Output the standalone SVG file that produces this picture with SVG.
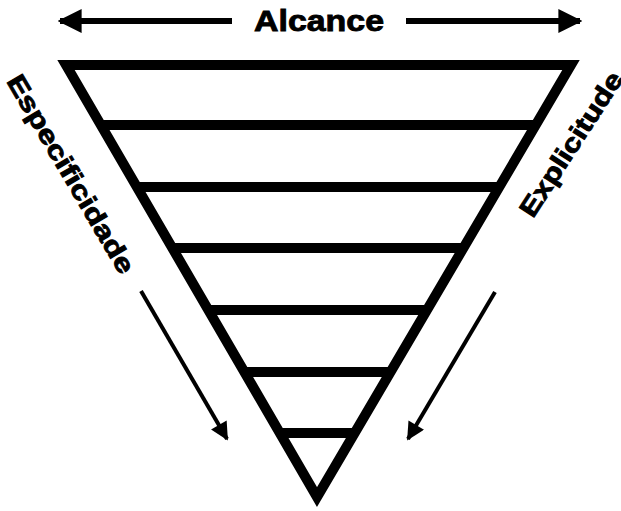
<svg xmlns="http://www.w3.org/2000/svg" width="621" height="511" viewBox="0 0 621 511">
<style>
.lbl{font-family:"Liberation Sans",Arial,sans-serif;font-weight:bold;fill:#000;stroke:#000;stroke-width:0.9px}
.tri{fill:none;stroke:#000;stroke-width:10;stroke-linejoin:miter;stroke-miterlimit:10}
.bar{stroke:#000;stroke-width:10}
.arr{stroke:#000;fill:none}
</style>
<defs>
<marker id="ah" viewBox="0 0 10 10" refX="9" refY="5" markerWidth="4" markerHeight="4" markerUnits="strokeWidth" orient="auto">
<path d="M0,0 L10,5 L0,10 Z" fill="#000"/>
</marker>
<marker id="ah2" viewBox="0 0 10 10" refX="9" refY="5" markerWidth="5.5" markerHeight="4.5" markerUnits="strokeWidth" orient="auto">
<path d="M0,0 L10,5 L0,10 Z" fill="#000"/>
</marker>
</defs>
<rect width="621" height="511" fill="#fff"/>
<g id="triangle">
<polygon class="tri" points="66,65 571,65 317,497"/>
<line class="bar" x1="100" y1="125" x2="536" y2="125"/>
<line class="bar" x1="136" y1="187" x2="500" y2="187"/>
<line class="bar" x1="172" y1="248" x2="464" y2="248"/>
<line class="bar" x1="208" y1="310" x2="427" y2="310"/>
<line class="bar" x1="244" y1="372" x2="391" y2="372"/>
<line class="bar" x1="280" y1="433" x2="355" y2="433"/>
</g>
<g id="alcance">
<text class="lbl" x="319" y="31" font-size="30" text-anchor="middle" textLength="130" lengthAdjust="spacingAndGlyphs">Alcance</text>
</g>
<g id="especificidade">
<text class="lbl" transform="translate(71,174) rotate(59.5)" x="0" y="9" font-size="26" text-anchor="middle" textLength="226" lengthAdjust="spacingAndGlyphs">Especificidade</text>
</g>
<g id="explicitude">
<text class="lbl" transform="translate(571,144) rotate(-57)" x="0" y="9" font-size="26" text-anchor="middle" textLength="167" lengthAdjust="spacingAndGlyphs">Explicitude</text>
</g>
<g id="connectors">
<line class="arr" stroke-width="6" x1="232" y1="21" x2="60" y2="21" marker-end="url(#ah)"/>
<line class="arr" stroke-width="6" x1="406" y1="21" x2="580" y2="21" marker-end="url(#ah)"/>
<line class="arr" stroke-width="4" x1="141" y1="291" x2="227" y2="439" marker-end="url(#ah2)"/>
<line class="arr" stroke-width="4" x1="495" y1="292" x2="408" y2="439" marker-end="url(#ah2)"/>
</g>
</svg>
